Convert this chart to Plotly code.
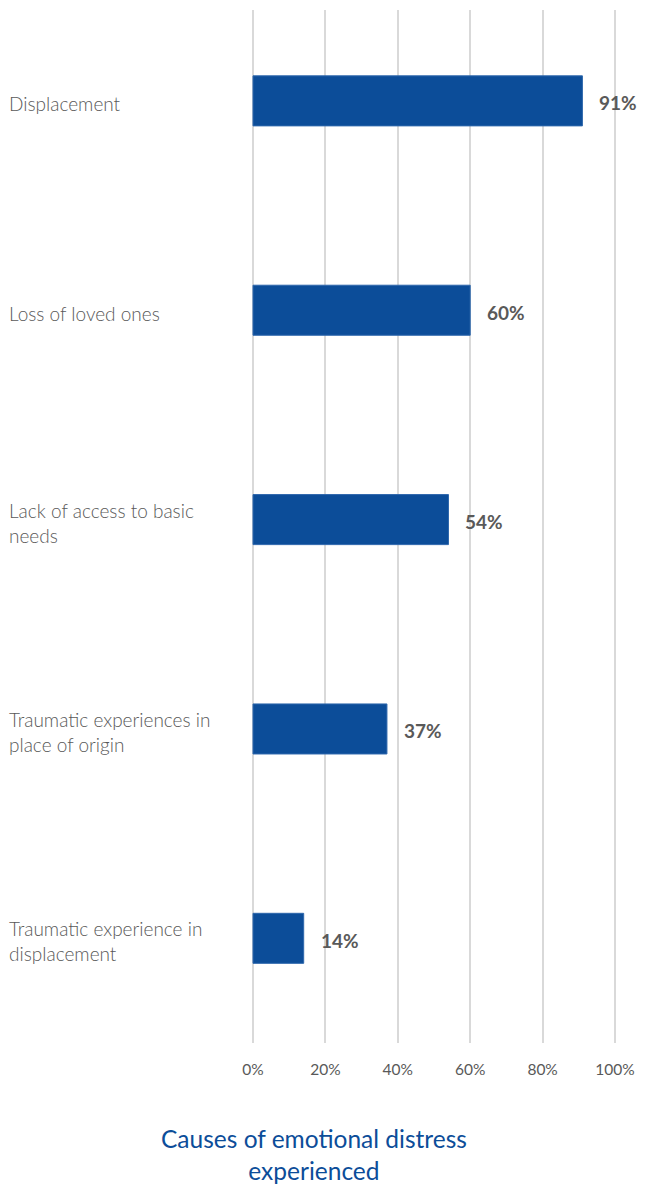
import plotly.graph_objects as go

categories = ["Displacement", "Loss of loved ones", "Lack of access to basic<br>needs",
              "Traumatic experiences in<br>place of origin", "Traumatic experience in<br>displacement"]
values = [91, 60, 54, 37, 14]
value_labels = ["91%", "60%", "54%", "37%", "14%"]
tick_vals = [0, 20, 40, 60, 80, 100]
tick_text = ["0%", "20%", "40%", "60%", "80%", "100%"]
title_text = "Causes of emotional distress<br>experienced"

W, H = 645, 1185
W_eff = W - 8                       # the canvas is drawn 8px narrower than requested
x0_px, x100_px = 253, 614           # pixel positions of 0% and 100%
px_per = (x100_px - x0_px) / 100.0
L, plot_right = x0_px - 4, x100_px + 4
R = W_eff - plot_right
T = 10
B = H - 1043
plot_w = W_eff - L - R
plot_h = H - T - B
xmin = -(x0_px - L) / px_per
xmax = 100 + (plot_right - x100_px) / px_per

font_family = "Lato, 'Open Sans', sans-serif"
grey = "#595959"
blue = "#0C4D99"

ypos = list(range(len(categories)))

fig = go.Figure()
fig.add_trace(go.Bar(
    x=values, y=ypos, orientation="h", base=0,
    marker=dict(color=blue, line=dict(color="#2E67AC", width=1)),
    width=0.239, hoverinfo="skip",
))

annotations = []
for yi, cat in zip(ypos, categories):
    annotations.append(dict(
        x=(8 - L) / plot_w, xref="paper", y=yi, yref="y",
        text=cat, showarrow=False, xanchor="left", yanchor="middle", align="left",
        yshift=-3,
        font=dict(family=font_family, size=19, color=grey, weight=300),
    ))
for yi, v, lab in zip(ypos, values, value_labels):
    annotations.append(dict(
        x=v, xref="x", y=yi, yref="y", text=lab, showarrow=False,
        xanchor="left", yanchor="middle", xshift=15, yshift=-2,
        font=dict(family=font_family, size=19, color=grey, weight=700),
    ))
annotations.append(dict(
    x=(314 - L) / plot_w, xref="paper",
    y=(H - 1154 - B) / plot_h, yref="paper",
    text=title_text, showarrow=False, xanchor="center", yanchor="middle", align="center",
    font=dict(family=font_family, size=24.5, color=blue),
))

fig.update_layout(
    width=W, height=H, autosize=False,
    margin=dict(l=L, r=R, t=T, b=B, pad=0),
    paper_bgcolor="white", plot_bgcolor="white",
    showlegend=False,
    annotations=annotations,
    xaxis=dict(
        range=[xmin, xmax], tickvals=tick_vals, ticktext=tick_text,
        showgrid=True, gridcolor="#D9D9D9", gridwidth=1.6,
        zeroline=False, showline=False,
        ticks="outside", ticklen=12, tickcolor="rgba(0,0,0,0)",
        tickfont=dict(family=font_family, size=15.5, color=grey),
        fixedrange=True,
    ),
    yaxis=dict(
        range=[4.5, -0.434], showticklabels=False, showgrid=False,
        zeroline=False, showline=False, fixedrange=True,
    ),
)

fig.write_html(
    "out.html",
    config={"displayModeBar": False, "responsive": False},
    post_script="document.body.style.margin='0';document.body.style.overflow='hidden';",
)
